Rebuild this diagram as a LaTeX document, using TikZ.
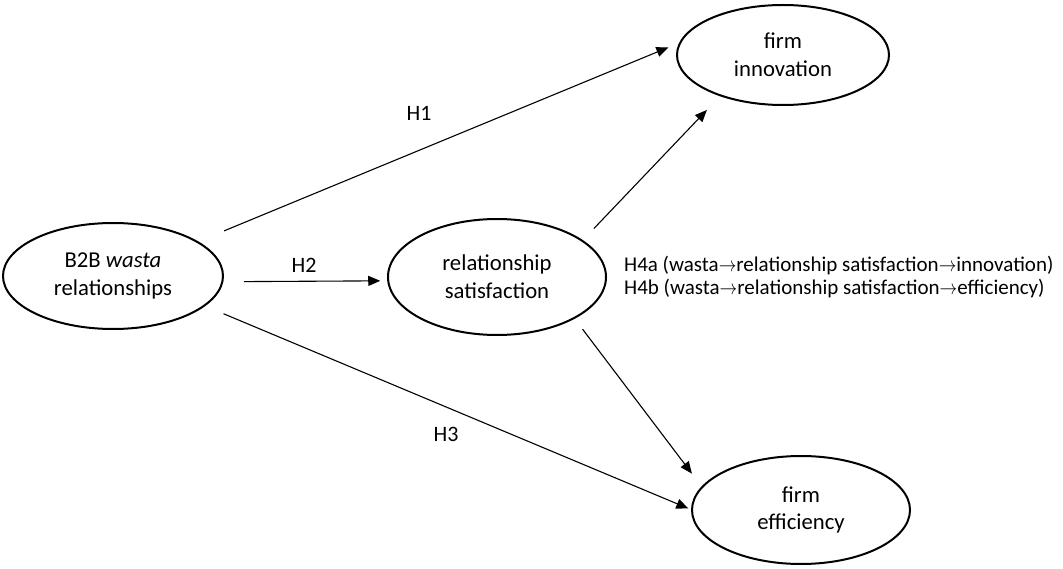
\documentclass[tikz,border=0pt]{standalone}
\usepackage{fontspec}
\setmainfont{Carlito}
\usepackage{graphicx}
\usetikzlibrary{arrows.meta,shapes.geometric}
\newcommand{\myarr}{\scalebox{0.85}[1]{$\rightarrow$}}
\begin{document}
\begin{tikzpicture}[x=1pt,y=-1pt,
  ell/.style={draw, line width=2pt, ellipse, inner sep=0pt, outer sep=0pt, align=center,
    font=\fontsize{22.7}{27.8}\selectfont},
  conn/.style={line width=1.1pt, -{Triangle[length=12pt,width=10pt]}},
  lab/.style={font=\fontsize{22}{26}\selectfont, inner sep=0pt},
  h4/.style={font=\fontsize{21}{23}\selectfont, inner sep=0pt}]
\useasboundingbox (0,0) rectangle (1063,569);
\node[ell, minimum width=220pt, minimum height=106pt] (b2b) at (113,276) {B2B \textit{wasta}\\relationships};
\node[ell, minimum width=218pt, minimum height=116pt] (rel) at (497,277) {relationship\\satisfaction};
\node[ell, minimum width=212pt, minimum height=100pt] (inn) at (783,55) {firm\\innovation};
\node[ell, minimum width=218pt, minimum height=108pt] (eff) at (801,510) {firm\\efficiency};
\draw[conn, shorten <=29pt, shorten >=13pt] (b2b.22) -- (inn.173);
\draw[conn, shorten <=21.5pt, shorten >=8pt] (b2b.-3) -- (rel.182);
\draw[conn, shorten <=21pt, shorten >=4pt] (b2b.-18) -- (eff.180);
\draw[conn, shorten <=17pt, shorten >=20pt] (rel.23) -- (inn.213);
\draw[conn, shorten <=14pt, shorten >=17pt] (rel.-28) -- (eff.167);
\node[lab] (h1) at (419,113) {H1};
\node[lab] (h2) at (304,265) {H2};
\node[lab] (h3) at (446,434) {H3};
\node[h4, anchor=base west] (h4a) at (624,272) {H4a (wasta\myarr relationship satisfaction\myarr innovation)};
\node[h4, anchor=base west] (h4b) at (624,295) {H4b (wasta\myarr relationship satisfaction\myarr efficiency)};
\end{tikzpicture}
\end{document}
